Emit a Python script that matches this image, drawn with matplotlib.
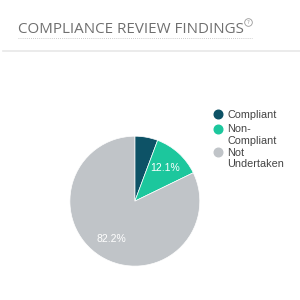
import matplotlib
matplotlib.use("Agg")
import matplotlib.pyplot as plt
from matplotlib.lines import Line2D

categories = ["Compliant", "Non-\nCompliant", "Not\nUndertaken"]
values = [5.7, 12.1, 82.2]
colors = ["#0d5266", "#1cc79d", "#c0c4c8"]
title = "COMPLIANCE REVIEW FINDINGS"

fig = plt.figure(figsize=(3, 3), dpi=100)
fig.patch.set_facecolor("white")

# Title
fig.text(18/300, 1-33/300, title, fontsize=10.9, color="#6f6f6f",
         family="Open Sans", va="baseline", ha="left")
fig.add_artist(Line2D([248/300], [1-22/300], marker="o", markersize=5.5,
                      markerfacecolor="none", markeredgecolor="#999999",
                      markeredgewidth=0.6, lw=0))
fig.text(248/300, 1-22/300, "?", fontsize=4, color="#999999",
         va="center", ha="center")
fig.add_artist(Line2D([18/300, 252/300], [1-38/300, 1-38/300],
                      color="#bbbbbb", lw=0.6, ls=(0, (1, 1.5))))
fig.add_artist(Line2D([3/300, 300/300], [1-51/300, 1-51/300],
                      color="#e8e8e8", lw=1.2))

ax = fig.add_axes([0.233, 0.113, 0.433, 0.433])
def fmt(p):
    return f"{p:.1f}%" if p > 8 else ""
wedges, texts, autotexts = ax.pie(values, colors=colors, startangle=90,
                                  counterclock=False, autopct=fmt,
                                  pctdistance=0.69,
                                  wedgeprops=dict(edgecolor="white", linewidth=0.5),
                                  textprops=dict(color="white", fontsize=7.5,
                                                 family="Liberation Sans"))
ax.set_xlim(-1, 1)
ax.set_ylim(-1, 1)
ax.set_aspect("equal")

# Legend
ys = [114, 129, 152]
for y, c, lab in zip(ys, colors, categories):
    fig.add_artist(Line2D([218/300], [1-y/300], marker="o", markersize=6.2,
                          color=c, lw=0))
    fig.text(227/300, 1-y/300 + 4.5/300, lab, fontsize=7.8, color="#444444",
             family="Liberation Sans", va="top", ha="left", linespacing=1.15)

fig.savefig("out.png", dpi=100)
